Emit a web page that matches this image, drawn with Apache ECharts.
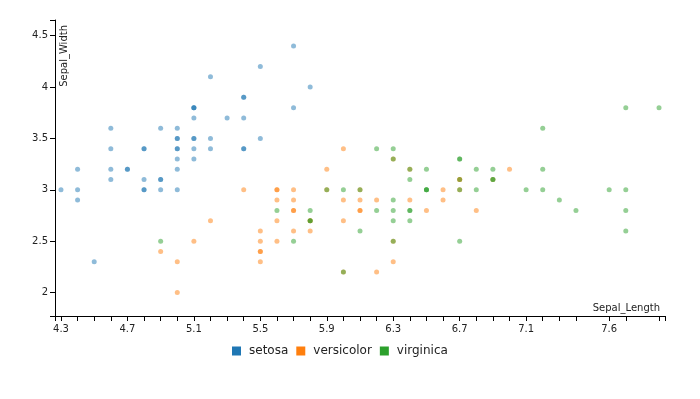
<!DOCTYPE html>
<html>
<head>
<meta charset="utf-8">
<script src="https://cdn.jsdelivr.net/npm/echarts@6/dist/echarts.min.js"></script>
<style>
  html, body { margin: 0; padding: 0; background: #fff; }
  #chart { width: 700px; height: 399px; }
</style>
</head>
<body>
<div id="chart"></div>
<script>
// iris: [Sepal_Length, Sepal_Width]
const setosa = [
  [5.1,3.5],[4.9,3.0],[4.7,3.2],[4.6,3.1],[5.0,3.6],[5.4,3.9],[4.6,3.4],[5.0,3.4],[4.4,2.9],[4.9,3.1],
  [5.4,3.7],[4.8,3.4],[4.8,3.0],[4.3,3.0],[5.8,4.0],[5.7,4.4],[5.4,3.9],[5.1,3.5],[5.7,3.8],[5.1,3.8],
  [5.4,3.4],[5.1,3.7],[4.6,3.6],[5.1,3.3],[4.8,3.4],[5.0,3.0],[5.0,3.4],[5.2,3.5],[5.2,3.4],[4.7,3.2],
  [4.8,3.1],[5.4,3.4],[5.2,4.1],[5.5,4.2],[4.9,3.1],[5.0,3.2],[5.5,3.5],[4.9,3.6],[4.4,3.0],[5.1,3.4],
  [5.0,3.5],[4.5,2.3],[4.4,3.2],[5.0,3.5],[5.1,3.8],[4.8,3.0],[5.1,3.8],[4.6,3.2],[5.3,3.7],[5.0,3.3]
];
const versicolor = [
  [7.0,3.2],[6.4,3.2],[6.9,3.1],[5.5,2.3],[6.5,2.8],[5.7,2.8],[6.3,3.3],[4.9,2.4],[6.6,2.9],[5.2,2.7],
  [5.0,2.0],[5.9,3.0],[6.0,2.2],[6.1,2.9],[5.6,2.9],[6.7,3.1],[5.6,3.0],[5.8,2.7],[6.2,2.2],[5.6,2.5],
  [5.9,3.2],[6.1,2.8],[6.3,2.5],[6.1,2.8],[6.4,2.9],[6.6,3.0],[6.8,2.8],[6.7,3.0],[6.0,2.9],[5.7,2.6],
  [5.5,2.4],[5.5,2.4],[5.8,2.7],[6.0,2.7],[5.4,3.0],[6.0,3.4],[6.7,3.1],[6.3,2.3],[5.6,3.0],[5.5,2.5],
  [5.5,2.6],[6.1,3.0],[5.8,2.6],[5.0,2.3],[5.6,2.7],[5.7,3.0],[5.7,2.9],[6.2,2.9],[5.1,2.5],[5.7,2.8]
];
const virginica = [
  [6.3,3.3],[5.8,2.7],[7.1,3.0],[6.3,2.9],[6.5,3.0],[7.6,3.0],[4.9,2.5],[7.3,2.9],[6.7,2.5],[7.2,3.6],
  [6.5,3.2],[6.4,2.7],[6.8,3.0],[5.7,2.5],[5.8,2.8],[6.4,3.2],[6.5,3.0],[7.7,3.8],[7.7,2.6],[6.0,2.2],
  [6.9,3.2],[5.6,2.8],[7.7,2.8],[6.3,2.7],[6.7,3.3],[7.2,3.2],[6.2,2.8],[6.1,3.0],[6.4,2.8],[7.2,3.0],
  [7.4,2.8],[7.9,3.8],[6.4,2.8],[6.3,2.8],[6.1,2.6],[7.7,3.0],[6.3,3.4],[6.4,3.1],[6.0,3.0],[6.9,3.1],
  [6.7,3.1],[6.9,3.1],[5.8,2.7],[6.8,3.2],[6.7,3.3],[6.7,3.0],[6.3,2.5],[6.5,3.0],[6.2,3.4],[5.9,3.0]
];
const speciesNames = ["setosa", "versicolor", "virginica"];
const xLabels = [4.3, 4.7, 5.1, 5.5, 5.9, 6.3, 6.7, 7.1, 7.6];
const yLabels = [2, 2.5, 3, 3.5, 4, 4.5];

// 轴范围：数据范围外留一点边
const xMin = 4.264, xMax = 7.936;
const yMin = 1.772, yMax = 4.653;

// x 轴刻度：每个出现过的 Sepal_Length 一个
const allX = setosa.concat(versicolor, virginica).map(d => d[0]);
const xTicks = [xMin].concat(Array.from(new Set(allX)).sort((a, b) => a - b), [xMax]);
const yTicks = [yMin].concat(yLabels, [yMax]);

const colors = ["#1f77b4", "#ff7f0e", "#2ca02c"];
const font = "DejaVu Sans";

const myChart = echarts.init(document.getElementById("chart"));
const option = {
  animation: false,
  color: colors,
  textStyle: { fontFamily: font },
  grid: { left: 55, right: 35, top: 20, bottom: 83, containLabel: false },
  legend: {
    data: speciesNames,
    bottom: 37,
    left: 227,
    icon: "rect",
    itemWidth: 9,
    itemHeight: 9,
    itemGap: 8,
    itemStyle: { opacity: 1 },
    textStyle: { fontSize: 12, color: "#222", fontFamily: font, padding: [0, 0, 0, 3] },
  },
  xAxis: {
    type: "value",
    min: xMin,
    max: xMax,
    name: "Sepal_Length",
    nameLocation: "end",
    nameGap: -5,
    nameTextStyle: { align: "right", verticalAlign: "bottom", fontSize: 10, color: "#222", padding: [0, 0, 3, 0] },
    splitLine: { show: false },
    axisLine: { show: true, onZero: false, lineStyle: { color: "#000", width: 1 } },
    axisTick: { show: true, length: 5, customValues: xTicks, lineStyle: { color: "#000" } },
    axisLabel: { customValues: xLabels, fontSize: 10, color: "#222", margin: 8, formatter: v => v.toFixed(1) },
  },
  yAxis: {
    type: "value",
    min: yMin,
    max: yMax,
    name: "Sepal_Width",
    nameLocation: "end",
    nameRotate: 90,
    nameGap: -5,
    nameTextStyle: { align: "right", verticalAlign: "top", fontSize: 10, color: "#222", padding: [4, 0, 0, 0] },
    splitLine: { show: false },
    axisLine: { show: true, onZero: false, lineStyle: { color: "#000", width: 1 } },
    axisTick: { show: true, length: 5, customValues: yTicks, lineStyle: { color: "#000" } },
    axisLabel: { customValues: yLabels, fontSize: 10, color: "#222", margin: 7 },
  },
  series: [
    { name: "setosa", type: "scatter", data: setosa },
    { name: "versicolor", type: "scatter", data: versicolor },
    { name: "virginica", type: "scatter", data: virginica },
  ].map(s => Object.assign(s, {
    symbolSize: 5,
    itemStyle: { opacity: 0.5 },
    emphasis: { disabled: true },
  })),
};
myChart.setOption(option);
</script>
</body>
</html>
